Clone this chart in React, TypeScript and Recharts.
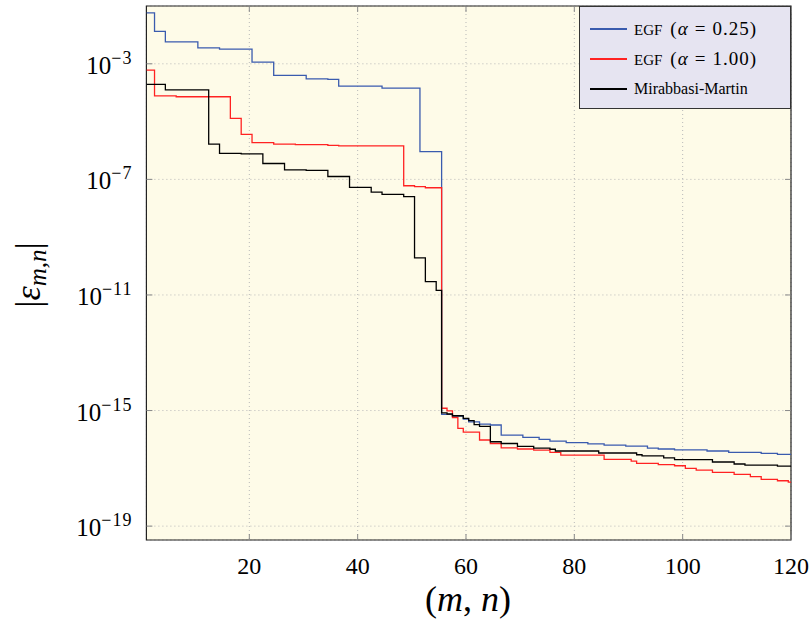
import React from "react";
import { LineChart, Line, XAxis, YAxis, CartesianGrid, ReferenceArea, Label } from "recharts";

// (m,n) index values along the x axis
const M_VALUES: number[] = Array.from({ length: 120 }, (_, i) => i + 1);

// log10 |eps_{m,n}|
const EGF_025: number[] = [
  -1.24, -1.24, -1.88, -1.88, -2.24, -2.24, -2.24, -2.24, -2.24, -2.24,
  -2.45, -2.45, -2.45, -2.45, -2.49, -2.49, -2.49, -2.49, -2.49, -2.49,
  -2.94, -2.94, -2.94, -2.94, -3.40, -3.40, -3.40, -3.40, -3.40, -3.40,
  -3.52, -3.52, -3.52, -3.52, -3.54, -3.54, -3.77, -3.77, -3.77, -3.77,
  -3.77, -3.77, -3.77, -3.77, -3.84, -3.84, -3.84, -3.84, -3.84, -3.84,
  -3.84, -6.04, -6.04, -6.04, -6.04, -15.13, -15.13, -15.19, -15.19, -15.30,
  -15.39, -15.39, -15.47, -15.47, -15.50, -15.50, -15.85, -15.85, -15.85, -15.85,
  -15.93, -15.93, -15.93, -16.00, -16.00, -16.06, -16.06, -16.06, -16.11, -16.11,
  -16.11, -16.11, -16.15, -16.15, -16.15, -16.20, -16.20, -16.20, -16.20, -16.23,
  -16.23, -16.23, -16.23, -16.30, -16.30, -16.33, -16.33, -16.33, -16.36, -16.36,
  -16.36, -16.36, -16.36, -16.36, -16.40, -16.40, -16.40, -16.40, -16.45, -16.45,
  -16.45, -16.45, -16.45, -16.45, -16.48, -16.48, -16.48, -16.52, -16.52, -16.52,
];

const EGF_100: number[] = [
  -3.22, -3.22, -4.11, -4.11, -4.11, -4.11, -4.14, -4.14, -4.14, -4.14,
  -4.14, -4.14, -4.14, -4.14, -4.14, -4.14, -4.89, -4.89, -5.44, -5.44,
  -5.73, -5.73, -5.73, -5.73, -5.78, -5.78, -5.78, -5.78, -5.80, -5.80,
  -5.80, -5.80, -5.80, -5.80, -5.82, -5.82, -5.84, -5.84, -5.84, -5.84,
  -5.84, -5.84, -5.84, -5.84, -5.84, -5.84, -5.84, -5.84, -7.22, -7.22,
  -7.25, -7.25, -7.29, -7.29, -7.29, -14.92, -15.01, -15.24, -15.62, -15.75,
  -15.75, -15.75, -16.02, -16.02, -16.14, -16.14, -16.29, -16.29, -16.29, -16.33,
  -16.33, -16.33, -16.37, -16.37, -16.37, -16.45, -16.45, -16.54, -16.54, -16.54,
  -16.54, -16.54, -16.54, -16.54, -16.54, -16.69, -16.69, -16.69, -16.69, -16.69,
  -16.75, -16.83, -16.83, -16.83, -16.83, -16.87, -16.87, -16.87, -16.91, -16.91,
  -17.00, -17.00, -17.06, -17.06, -17.06, -17.14, -17.14, -17.14, -17.14, -17.21,
  -17.21, -17.21, -17.29, -17.29, -17.38, -17.38, -17.38, -17.43, -17.43, -17.48,
];

const MIRABBASI: number[] = [
  -3.71, -3.71, -3.71, -3.71, -3.90, -3.90, -3.90, -3.90, -3.90, -3.90,
  -3.90, -3.90, -5.78, -5.78, -6.10, -6.10, -6.10, -6.10, -6.12, -6.12,
  -6.12, -6.12, -6.45, -6.45, -6.45, -6.45, -6.67, -6.67, -6.67, -6.67,
  -6.69, -6.69, -6.69, -6.69, -6.90, -6.90, -6.90, -6.90, -7.28, -7.28,
  -7.28, -7.28, -7.44, -7.44, -7.52, -7.52, -7.52, -7.52, -7.60, -7.60,
  -9.72, -9.72, -10.54, -10.54, -10.84, -15.08, -15.12, -15.18, -15.18, -15.27,
  -15.35, -15.49, -15.55, -15.55, -16.08, -16.08, -16.14, -16.14, -16.14, -16.24,
  -16.24, -16.24, -16.30, -16.30, -16.30, -16.34, -16.40, -16.40, -16.40, -16.40,
  -16.40, -16.40, -16.40, -16.40, -16.47, -16.47, -16.47, -16.47, -16.47, -16.47,
  -16.47, -16.53, -16.57, -16.57, -16.57, -16.57, -16.64, -16.64, -16.70, -16.70,
  -16.70, -16.70, -16.70, -16.70, -16.70, -16.78, -16.78, -16.78, -16.78, -16.85,
  -16.85, -16.89, -16.89, -16.89, -16.89, -16.89, -16.89, -16.92, -16.92, -16.92,
];

const X_TICKS: number[] = [20, 40, 60, 80, 100, 120];
const Y_TICKS: number[] = [-19, -15, -11, -7, -3];
const X_DOMAIN: [number, number] = [1, 120];
const Y_DOMAIN: [number, number] = [-19.48, -1];

const SERIES = [
  { key: "egf025", name: "EGF", alpha: "0.25", color: "#3A5BAE" },
  { key: "egf100", name: "EGF", alpha: "1.00", color: "#FF2222" },
  { key: "mm", name: "Mirabbasi-Martin", alpha: null as string | null, color: "#000000" },
];

const data = M_VALUES.map((m, i) => ({
  m,
  egf025: EGF_025[i],
  egf100: EGF_100[i],
  mm: MIRABBASI[i],
}));

const W = 811;
const H = 622;
const MARGIN = { top: 6, right: 20, bottom: 0, left: 0 };
const Y_AXIS_W = 146.4;
const X_AXIS_H = 82;
const PLOT_W = W - MARGIN.right - Y_AXIS_W;
const PLOT_H = H - MARGIN.top - X_AXIS_H;
const FONT = "'Liberation Serif', 'Times New Roman', serif";
const TICK_COLOR = "#8a8a8a";

const YTick = (props: any) => {
  const { x, y, payload } = props;
  const v = payload.value as number;
  return (
    <g>
      <line x1={x} x2={x + 6} y1={y} y2={y} stroke={TICK_COLOR} strokeWidth={1} />
      <line x1={x + PLOT_W - 6} x2={x + PLOT_W} y1={y} y2={y} stroke={TICK_COLOR} strokeWidth={1} />
      <text x={x - 14} y={y + 10} textAnchor="end" fontFamily={FONT} fontSize={25} fill="#000">
        <tspan>10</tspan>
        <tspan dy={-10} fontSize={18} letterSpacing={1}>{"\u2212" + Math.abs(v)}</tspan>
      </text>
    </g>
  );
};

const XTick = (props: any) => {
  const { x, y, payload } = props;
  return (
    <g>
      <line x1={x} x2={x} y1={y} y2={y - 6} stroke={TICK_COLOR} strokeWidth={1} />
      <line x1={x} x2={x} y1={y - PLOT_H} y2={y - PLOT_H + 6} stroke={TICK_COLOR} strokeWidth={1} />
      <text x={x} y={y + 34} textAnchor="middle" fontFamily={FONT} fontSize={24} fill="#000">
        {payload.value}
      </text>
    </g>
  );
};

const YLabel = () => (
  <text
    transform="translate(40, 275) rotate(-90)"
    textAnchor="middle"
    fontFamily={FONT}
    fontSize={36}
    fill="#000"
  >
    <tspan>|</tspan>
    <tspan fontStyle="italic">ε</tspan>
    <tspan fontStyle="italic" fontSize={25} dy={6}>m,n</tspan>
    <tspan dy={-6}>|</tspan>
  </text>
);

const XLabel = () => (
  <text x={468} y={611} textAnchor="middle" fontFamily={FONT} fontSize={36} fill="#000">
    <tspan>(</tspan>
    <tspan fontStyle="italic">m</tspan>
    <tspan>, </tspan>
    <tspan fontStyle="italic">n</tspan>
    <tspan>)</tspan>
  </text>
);

const LegendBox = () => (
  <div
    style={{
      position: "absolute",
      left: 579,
      top: 6,
      width: 212,
      height: 103,
      background: "#E6E4F1",
      border: "1px solid #333",
      boxSizing: "border-box",
      fontFamily: FONT,
      color: "#000",
    }}
  >
    {SERIES.map((s, i) => (
      <div
        key={s.key}
        style={{
          position: "absolute",
          left: 10,
          top: 22 + i * 30 - 14,
          height: 28,
          display: "flex",
          alignItems: "center",
          whiteSpace: "nowrap",
        }}
      >
        <span style={{ display: "inline-block", width: 37, height: 1.3, background: s.color, marginRight: 7 }} />
        {s.alpha ? (
          <span style={{ fontSize: 15 }}>
            {s.name}
            <span style={{ fontSize: 19, marginLeft: 8, letterSpacing: 1 }}>
              (<i>α</i>
              <span style={{ margin: "0 6px" }}>=</span>
              {s.alpha})
            </span>
          </span>
        ) : (
          <span style={{ fontSize: 16 }}>{s.name}</span>
        )}
      </div>
    ))}
  </div>
);

export default function App() {
  return (
    <div style={{ position: "absolute", left: 0, top: 0, width: W, height: H, background: "#fff" }}>
      <LineChart width={W} height={H} data={data} margin={MARGIN}>
        <CartesianGrid stroke="#b8b8b8" strokeDasharray="1 3" fill="#FEFBE8" fillOpacity={1} />
        <XAxis
          dataKey="m"
          type="number"
          domain={X_DOMAIN}
          ticks={X_TICKS}
          allowDataOverflow
          height={X_AXIS_H}
          tickSize={0}
          tickMargin={0}
          axisLine={false}
          tickLine={false}
          tick={<XTick />}
        >
          <Label content={<XLabel />} />
        </XAxis>
        <YAxis
          type="number"
          domain={Y_DOMAIN}
          ticks={Y_TICKS}
          allowDataOverflow
          width={Y_AXIS_W}
          tickSize={0}
          tickMargin={0}
          axisLine={false}
          tickLine={false}
          tick={<YTick />}
        >
          <Label content={<YLabel />} />
        </YAxis>
        <ReferenceArea
          x1={X_DOMAIN[0]}
          x2={X_DOMAIN[1]}
          y1={Y_DOMAIN[0]}
          y2={Y_DOMAIN[1]}
          fill="none"
          stroke="#222"
          strokeWidth={1.2}
          ifOverflow="visible"
        />
        {SERIES.map((s) => (
          <Line
            key={s.key}
            dataKey={s.key}
            type="step"
            stroke={s.color}
            strokeWidth={1.3}
            dot={false}
            activeDot={false}
            isAnimationActive={false}
          />
        ))}
      </LineChart>
      <LegendBox />
    </div>
  );
}
